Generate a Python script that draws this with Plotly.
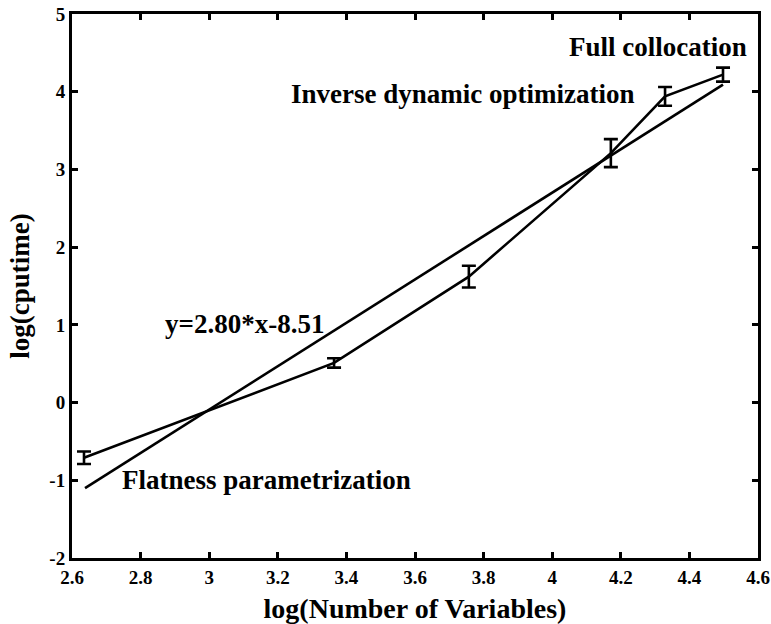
import plotly.graph_objects as go

# measured points: log(number of variables) vs log(cputime), with error bars
log_vars = [2.635, 3.364, 3.757, 4.171, 4.329, 4.498]
log_cpu = [-0.71, 0.51, 1.62, 3.21, 3.94, 4.22]
cpu_err = [0.08, 0.06, 0.14, 0.18, 0.12, 0.09]

# fitted line end points (y=2.80*x-8.51)
fit_x = [2.638, 4.498]
fit_y = [-1.10, 4.09]

labels = [
    ("y=2.80*x-8.51", 2.865, 1.01, "left"),
    ("Flatness parametrization", 2.74, -1.0, "left"),
    ("Inverse dynamic optimization", 3.233, 3.97, "left"),
    ("Full collocation", 4.574, 4.58, "right"),
]

FONT = "Liberation Serif, Times New Roman, serif"
BLACK = "#000000"

fig = go.Figure()

fig.add_trace(go.Scatter(
    x=log_vars, y=log_cpu, mode="lines",
    line=dict(color=BLACK, width=2.6),
    error_y=dict(type="data", array=cpu_err, visible=True,
                 color=BLACK, thickness=2.6, width=7),
    showlegend=False,
))
fig.add_trace(go.Scatter(
    x=fit_x, y=fit_y, mode="lines",
    line=dict(color=BLACK, width=2.6),
    showlegend=False,
))

for text, x, y, anchor in labels:
    fig.add_annotation(
        x=x, y=y, text=text, showarrow=False, xanchor=anchor, yanchor="middle",
        font=dict(family=FONT, size=27, color=BLACK, weight="bold"),
    )

axis_common = dict(
    showline=True, linewidth=3, linecolor=BLACK, mirror="ticks",
    ticks="inside", ticklen=6, tickwidth=2.5, tickcolor=BLACK,
    showgrid=False, zeroline=False, automargin=False,
    ticklabeloverflow="allow",
    tickfont=dict(family=FONT, size=19, color=BLACK, weight="bold"),
)

fig.update_layout(
    width=771, height=624,
    paper_bgcolor="white", plot_bgcolor="white",
    margin=dict(l=72, r=13, t=14, b=66),
    font=dict(family=FONT, color=BLACK),
    xaxis=dict(
        range=[2.6, 4.6], tickmode="array",
        tickvals=[2.6, 2.8, 3, 3.2, 3.4, 3.6, 3.8, 4, 4.2, 4.4, 4.6],
        ticktext=["2.6", "2.8", "3", "3.2", "3.4", "3.6", "3.8", "4", "4.2", "4.4", "4.6"],
        title=dict(text="log(Number of Variables)", standoff=16,
                   font=dict(family=FONT, size=28, color=BLACK, weight="bold")),
        **axis_common,
    ),
    yaxis=dict(
        range=[-2, 5], tickmode="array",
        tickvals=[-2, -1, 0, 1, 2, 3, 4, 5],
        ticktext=["-2", "-1", "0", "1", "2", "3", "4", "5"],
        title=dict(text="log(cputime)", standoff=12,
                   font=dict(family=FONT, size=27, color=BLACK, weight="bold")),
        **axis_common,
    ),
)

# drop the default 8px page margin so the figure fills the window exactly
fig.write_html("out.html", config={"displayModeBar": False},
               post_script="document.body.style.margin='0';")
